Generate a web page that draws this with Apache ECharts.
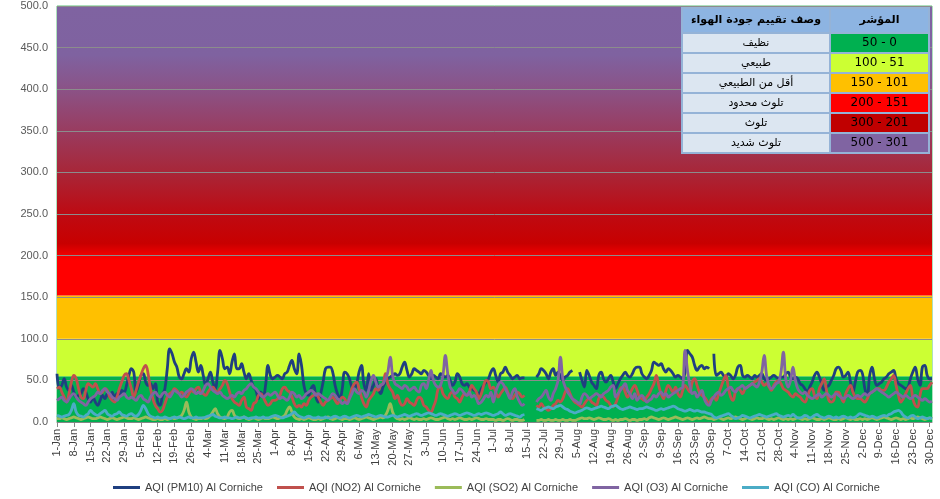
<!DOCTYPE html>
<html>
<head>
<meta charset="utf-8">
<script src="https://cdn.jsdelivr.net/npm/echarts@6.0.0/dist/echarts.min.js"></script>
<style>
html, body { margin: 0; padding: 0; background: #fff; }
#chart { width: 940px; height: 499px; }
</style>
</head>
<body>
<div id="chart"></div>
<script>
// daily AQI values at Al Corniche, one line per month (leap year, 366 days)
const pm10 = [
  58,40,44,52,42,38,44,36,30,32,34,40,36,28,24,30,24,20,26,32,28,34,30,36,28,34,30,38,36,44,56,
  64,60,36,44,56,58,48,44,46,40,46,24,20,32,40,64,88,82,72,66,54,52,58,64,60,76,84,72,60,
  68,56,44,52,60,48,40,60,86,76,64,66,58,72,82,64,64,70,60,52,58,50,42,38,28,36,30,44,68,56,52,
  54,56,54,52,58,60,68,74,64,58,82,68,44,34,32,40,44,30,24,34,48,64,66,66,60,44,34,28,40,60,
  58,52,42,40,46,60,68,46,38,58,38,44,52,40,34,42,48,52,54,56,58,56,58,66,72,62,54,58,64,62,60,
  58,62,60,56,52,56,54,52,58,56,54,56,50,44,48,58,54,46,44,46,42,40,38,36,34,40,44,48,52,60,
  64,56,48,58,60,66,60,56,52,54,56,52,53,53,null,null,null,null,54,58,64,62,58,52,60,64,56,60,56,50,54,
  56,60,62,null,null,60,50,42,62,56,48,44,40,56,60,52,48,52,56,48,40,46,52,56,60,56,54,58,64,66,66,
  58,54,52,56,62,72,70,68,70,64,60,64,62,58,54,56,54,52,60,86,82,78,68,62,66,68,64,66,64,null,
  82,56,58,60,56,54,58,56,52,56,66,68,56,54,56,54,52,56,54,56,58,52,50,52,54,56,54,52,54,54,58,
  60,54,52,54,52,46,44,40,36,42,48,56,60,54,46,38,42,44,50,56,64,66,62,54,56,60,48,36,48,60,
  62,58,40,32,56,66,52,44,46,48,52,54,58,60,62,52,46,44,42,40,42,52,60,66,52,44,66,68,56,52,52
];
const no2 = [
  40,42,36,30,24,34,48,56,52,40,30,28,38,46,44,42,46,40,34,36,40,38,30,26,24,30,40,48,56,58,50,
  40,30,38,48,56,64,68,58,40,28,20,16,12,14,22,30,34,36,40,38,34,36,32,30,34,38,36,40,42,
  36,34,32,36,40,42,38,36,40,44,50,46,36,28,24,22,20,26,30,18,16,14,22,24,32,34,30,24,20,22,26,
  26,28,32,40,42,38,36,30,22,18,20,18,22,20,26,30,32,34,30,24,20,24,26,28,30,26,22,26,30,28,
  22,30,40,46,48,40,30,22,18,26,30,34,40,38,44,46,58,46,40,36,28,32,24,20,22,28,24,22,20,26,30,
  28,20,18,14,12,18,26,40,42,34,30,28,34,36,30,28,24,30,34,32,36,44,40,36,28,34,44,50,48,40,
  42,36,30,34,38,42,36,30,28,32,36,34,30,32,null,null,null,null,20,18,22,18,16,14,16,20,22,26,24,28,36,
  40,34,28,24,22,20,18,22,26,28,24,22,20,28,32,30,26,24,20,18,22,30,40,42,36,30,34,40,44,38,30,
  28,26,30,34,40,46,56,44,34,28,38,44,40,36,42,34,30,38,44,40,36,48,52,44,36,32,30,26,22,28,
  30,26,34,42,50,56,42,30,26,36,40,38,34,40,42,44,46,48,50,52,48,44,46,42,38,44,48,50,46,40,38,
  36,32,30,34,32,30,26,24,30,38,40,32,28,40,46,52,38,26,24,26,36,36,30,24,34,40,44,36,30,28,
  28,26,24,28,34,36,38,40,40,38,38,42,48,52,56,44,32,24,28,34,40,44,28,20,18,32,40,40,40,44,48
];
const so2 = [
  4,4,5,4,3,4,5,6,5,4,3,4,5,6,5,4,4,5,6,5,4,3,4,5,4,3,4,5,6,5,4,
  4,5,4,3,4,5,6,5,4,3,3,4,3,3,4,3,4,5,4,5,6,8,14,24,12,6,4,3,4,
  4,5,4,5,8,12,16,10,6,5,4,6,12,14,8,5,4,5,6,4,3,4,5,4,3,4,5,4,4,5,6,
  5,4,5,6,8,14,18,12,6,4,3,4,3,4,5,4,3,3,4,3,4,5,6,4,3,4,5,4,3,4,
  4,3,4,5,4,3,4,5,6,5,4,3,4,5,6,5,8,14,22,12,6,4,3,4,3,4,5,4,3,4,3,
  3,4,3,4,5,4,3,3,4,5,6,4,3,4,3,4,5,4,3,3,4,3,4,5,4,3,3,4,3,3,
  3,2,3,3,2,3,4,3,2,3,3,2,2,3,null,null,null,null,2,2,3,2,2,3,2,2,3,2,2,3,2,
  2,3,2,2,3,4,5,4,4,5,4,3,4,5,4,3,3,4,3,2,3,2,3,3,4,3,2,3,3,2,3,
  3,4,3,5,6,5,4,3,4,5,4,3,4,5,6,5,4,3,4,5,4,3,4,5,4,5,6,5,4,4,
  3,4,5,4,3,4,5,4,5,6,5,4,3,4,5,4,3,4,5,4,4,5,4,3,4,3,4,5,4,3,4,
  3,4,3,4,5,4,3,4,3,4,5,4,3,3,4,3,4,5,4,3,3,4,3,4,5,4,3,4,3,3,
  4,3,4,3,4,5,4,3,4,5,6,5,4,3,4,5,4,3,4,3,4,5,4,5,6,5,4,3,4,5,4
];
const o3 = [
  26,28,30,26,24,28,32,34,30,26,24,22,20,24,28,30,32,36,34,38,40,36,34,30,28,26,30,32,34,30,28,
  30,28,26,30,32,28,26,24,30,34,36,32,30,34,36,32,30,34,38,36,34,30,32,36,38,40,38,34,36,
  34,38,44,46,42,38,36,34,36,32,30,28,30,32,30,34,36,34,38,40,44,46,42,40,36,32,30,32,34,32,34,
  36,32,28,30,28,26,30,36,34,30,32,28,30,34,36,38,36,32,34,32,30,28,26,30,34,32,28,26,22,24,
  22,28,34,40,36,34,38,36,30,38,50,56,48,42,44,46,52,60,78,56,46,44,42,40,44,42,38,40,42,38,36,
  44,46,40,50,62,50,44,42,44,56,80,58,42,38,34,36,40,38,34,32,36,30,32,28,22,24,28,32,30,36,
  24,36,44,48,46,40,34,28,36,40,30,24,20,22,null,null,null,null,24,28,30,34,38,30,26,34,40,50,78,52,42,
  36,32,28,26,24,22,30,34,32,28,30,32,34,32,30,34,36,38,42,44,30,34,38,42,46,38,34,28,34,26,30,
  32,28,24,26,28,32,30,34,36,32,34,30,32,34,36,38,40,42,86,62,44,34,36,30,34,38,28,22,20,26,
  30,34,36,32,34,38,40,42,38,36,40,42,44,40,42,44,46,44,42,48,60,80,56,44,40,42,46,48,60,84,52,
  42,50,66,50,40,36,34,36,32,30,28,30,32,34,30,32,34,32,30,32,34,32,30,28,30,32,30,28,30,32,
  30,32,34,32,34,36,38,40,38,36,34,32,30,32,34,36,34,32,30,32,30,28,30,32,30,28,26,28,26,24,25
];
const co = [
  8,7,6,7,8,9,14,22,12,8,7,6,8,10,14,11,9,8,10,12,14,10,8,7,9,10,12,9,8,7,9,
  10,8,7,9,14,20,16,10,7,6,5,6,5,5,6,5,4,5,6,5,6,5,4,5,6,5,5,6,5,
  5,5,6,7,8,9,7,6,5,5,6,5,5,4,5,6,5,5,6,5,4,5,5,6,5,5,6,5,5,6,7,
  8,7,6,5,6,7,8,10,12,9,7,6,5,6,7,6,5,5,6,5,5,6,5,5,6,7,6,5,6,7,
  6,5,6,7,8,7,6,7,8,9,8,7,6,7,8,7,6,6,7,8,7,6,7,8,9,8,7,8,9,10,9,
  8,9,10,11,10,9,8,9,10,9,8,7,8,9,10,9,8,9,10,11,10,9,8,9,10,9,10,11,10,9,
  8,9,10,12,10,8,9,10,9,8,7,6,8,9,null,null,null,null,16,15,14,16,17,18,17,16,18,19,20,18,16,
  15,13,12,11,12,13,14,16,17,16,15,16,17,18,19,18,17,16,18,19,20,18,16,15,16,17,18,17,16,15,16,
  16,17,18,17,16,15,14,15,16,15,16,17,18,19,18,16,15,14,13,14,15,14,13,14,13,12,12,11,10,9,
  6,5,6,7,8,9,10,8,6,4,5,6,8,7,6,5,6,7,8,9,8,7,6,7,8,9,10,8,7,6,7,
  8,7,9,7,5,5,6,8,7,5,6,8,9,7,6,5,6,7,6,5,6,5,6,7,6,5,6,5,6,8,
  10,9,8,7,6,7,6,5,6,7,8,7,9,10,12,13,14,12,8,6,5,7,8,6,4,5,6,5,4,5,4
];

const seriesNames = ['AQI (PM10) Al Corniche', 'AQI (NO2) Al Corniche', 'AQI (SO2) Al Corniche',
                     'AQI (O3) Al Corniche', 'AQI (CO) Al Corniche'];
const seriesColors = ['#1F3F80', '#C0504D', '#9BBB59', '#8064A2', '#4BACC6'];

// table in the top right corner
const tableHead = ['وصف تقييم جودة الهواء', 'المؤشر'];
const levelNames = ['نظيف', 'طبيعي', 'أقل من الطبيعي', 'تلوث محدود', 'تلوث', 'تلوث شديد'];
const levelRanges = ['50 - 0', '100 - 51', '150 - 101', '200 - 151', '300 - 201', '500 - 301'];
const levelColors = ['#00B050', '#CCFF33', '#FFC000', '#FF0000', '#C00000', '#8064A2'];

// background bands [from, to]
const bandLimits = [[0, 55], [55, 100], [100, 152], [152, 500]];

const monthNames = ['Jan','Feb','Mar','Apr','May','Jun','Jul','Aug','Sep','Oct','Nov','Dec'];
const days = [];
for (let i = 0; i < 366; i++) {
  const d = new Date(2016, 0, 1 + i);
  days.push(d.getDate() + '-' + monthNames[d.getMonth()]);
}

const topGradient = {
  type: 'linear', x: 0, y: 0, x2: 0, y2: 1,
  colorStops: [
    { offset: 0, color: '#7F63A1' },
    { offset: 0.17, color: '#7F62A0' },
    { offset: 0.29, color: '#8B5286' },
    { offset: 0.43, color: '#993C60' },
    { offset: 0.575, color: '#A82638' },
    { offset: 0.72, color: '#BE0A12' },
    { offset: 0.82, color: '#C80000' },
    { offset: 0.86, color: '#F00000' },
    { offset: 0.88, color: '#FF0000' },
    { offset: 1, color: '#FF0000' }
  ]
};
const bandColors = ['#00B050', '#CCFF33', '#FFC000', topGradient];

const chart = echarts.init(document.getElementById('chart'));

const lineSeries = [pm10, no2, so2, o3, co].map(function (vals, i) {
  return {
    name: seriesNames[i],
    type: 'line',
    data: vals,
    z: 5,
    smooth: 0.4,
    symbol: 'none',
    connectNulls: false,
    lineStyle: { color: seriesColors[i], width: 2.8 },
    itemStyle: { color: seriesColors[i] }
  };
});

const bandSeries = {
  name: 'bands',
  type: 'line',
  data: [],
  z: 1,
  silent: true,
  markArea: {
    silent: true,
    z: 1,
    data: bandLimits.map(function (b, i) {
      return [{ yAxis: b[0], itemStyle: { color: bandColors[i], opacity: 1 } }, { yAxis: b[1] }];
    })
  }
};

// table graphic
const tX = 682, tSplit = 830, tRight = 929, tTop = 8, headH = 25, rowH = 20;
const tableEls = [];
function cell(x, y, w, h, fill) {
  tableEls.push({
    type: 'rect', z: 100,
    shape: { x: x, y: y, width: w, height: h },
    style: { fill: fill, stroke: '#95B3D7', lineWidth: 2 }
  });
}
function label(x, y, txt, size, weight) {
  tableEls.push({
    type: 'text', z: 101,
    x: x, y: y,
    style: {
      text: txt, fill: '#000', fontSize: size, fontWeight: weight,
      fontFamily: 'DejaVu Sans, Liberation Sans, sans-serif',
      align: 'center', verticalAlign: 'middle'
    }
  });
}
cell(tX, tTop, tSplit - tX, headH, '#8DB4E2');
cell(tSplit, tTop, tRight - tSplit, headH, '#8DB4E2');
label((tX + tSplit) / 2, tTop + headH / 2, tableHead[0], 11, 'bold');
label((tSplit + tRight) / 2, tTop + headH / 2, tableHead[1], 11, 'bold');
levelNames.forEach(function (nm, i) {
  const y = tTop + headH + i * rowH;
  cell(tX, y, tSplit - tX, rowH, '#DCE6F1');
  cell(tSplit, y, tRight - tSplit, rowH, levelColors[i]);
  label((tX + tSplit) / 2, y + rowH / 2, nm, 11, 'normal');
  label((tSplit + tRight) / 2, y + rowH / 2, levelRanges[i], 12, 'normal');
});

chart.setOption({
  animation: false,
  backgroundColor: '#ffffff',
  grid: {
    left: 57, right: 8, top: 6, bottom: 77,
    show: true, borderColor: '#5CC27A', borderWidth: 1, backgroundColor: 'transparent'
  },
  legend: {
    data: seriesNames,
    left: 108,
    top: 477,
    icon: 'rect',
    itemWidth: 27,
    itemHeight: 3,
    itemGap: 14,
    textStyle: { fontSize: 11, color: '#404040', fontFamily: 'Liberation Sans, Arial, sans-serif' }
  },
  xAxis: {
    type: 'category',
    data: days,
    boundaryGap: false,
    z: 3,
    axisLine: { lineStyle: { color: '#868686' } },
    axisTick: { show: true, interval: 6, length: 5, lineStyle: { color: '#868686' } },
    axisLabel: {
      interval: 6, rotate: 90, fontSize: 11, color: '#404040', margin: 7,
      fontFamily: 'Liberation Sans, Arial, sans-serif'
    },
    splitLine: { show: false }
  },
  yAxis: {
    type: 'value',
    min: 0, max: 500, interval: 50,
    z: 3,
    axisLine: { show: false },
    axisTick: { show: false },
    axisLabel: {
      fontSize: 11, color: '#595959', margin: 9,
      fontFamily: 'Liberation Sans, Arial, sans-serif',
      formatter: function (v) { return v.toFixed(1); }
    },
    splitLine: { show: true, lineStyle: { color: '#8C8C8C', width: 1 } }
  },
  series: [bandSeries].concat(lineSeries),
  graphic: tableEls
});
</script>
</body>
</html>
